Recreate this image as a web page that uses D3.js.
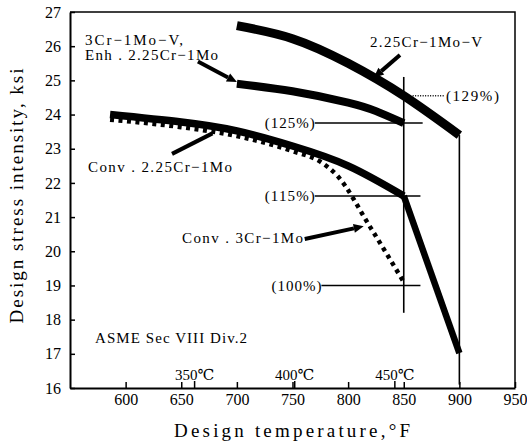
<!DOCTYPE html>
<html>
<head>
<meta charset="utf-8">
<script src="https://cdn.jsdelivr.net/npm/d3@7"></script>
<style>
  html, body { margin: 0; padding: 0; background: #fff; }
  svg { display: block; }
  text { font-family: "Liberation Serif", "DejaVu Serif", serif; fill: #000; }
</style>
</head>
<body>
<svg id="chart" width="527" height="444"></svg>
<script>
// ---------- data ----------
const xTickValues = [600, 650, 700, 750, 800, 850, 900, 950];
const yTickValues = [16, 17, 18, 19, 20, 21, 22, 23, 24, 25, 26, 27];
const celsiusTicks = [350, 400, 450];

// 2.25Cr-1Mo-V
const vTemps  = [700, 750, 800, 850, 900];
const vStress = [26.6, 26.22, 25.5, 24.55, 23.4];
// 3Cr-1Mo-V, Enh. 2.25Cr-1Mo
const enhTemps  = [700, 750, 800, 825, 850];
const enhStress = [24.9, 24.68, 24.35, 24.1, 23.75];
// Conv. 2.25Cr-1Mo
const convTemps  = [586, 650, 700, 750, 800, 850, 900];
const convStress = [24.0, 23.78, 23.52, 23.08, 22.5, 21.62, 17.02];
// Conv. 3Cr-1Mo (dotted)
const c3Temps  = [586, 650, 700, 750, 775, 790, 820, 850];
const c3Stress = [23.85, 23.63, 23.37, 22.93, 22.62, 22.22, 20.7, 19.1];

// percentage reference lines: label, stress, start temp, end temp
const pctLabels = ["(125%)", "(115%)", "(100%)"];
const pctStress = [23.75, 21.62, 19.0];
const pctStart  = [770, 770, 776];
const pctEnd    = [867, 865, 865];
const pct129 = { label: "(129%)", stress: 24.55, start: 858, end: 887 };

// vertical reference lines
const refTemps = [850, 900];
const refTop   = [25.1, 23.4];
const refBot   = [18.2, 16.1];

// annotation labels (temp, stress at baseline)
const noteTexts  = ["2.25Cr\u22121Mo\u2212V", "3Cr\u22121Mo\u2212V,", "Enh . 2.25Cr\u22121Mo",
                    "Conv . 2.25Cr\u22121Mo", "Conv . 3Cr\u22121Mo", "ASME Sec VIII Div.2"];
const noteTemps  = [819.7, 563.5, 563.5, 566.2, 650.7, 572.5];
const noteStress = [25.98, 26.04, 25.6, 22.32, 20.24, 17.32];
const noteWidths = [112, 98, 133, 144, 121, 152];

// arrows: from (t1,s1) to (t2,s2)
const arrowFrom = [[846.6, 25.74], [665.0, 25.55], [641.7, 22.85], [761.0, 20.36]];
const arrowTo   = [[823.0, 25.08], [700.0, 24.95], [678.0, 23.45], [814.0, 20.73]];
const arrowHead = [true, true, false, true];

// ---------- layout ----------
const svg = d3.select("#chart");
const mLeft = 70, mRight = 515, mTop = 12, mBottom = 388;
const x = d3.scaleLinear().domain([550, 950]).range([mLeft, mRight]);
const y = d3.scaleLinear().domain([16, 27]).range([mBottom, mTop]);

// frame (top & right)
svg.append("path")
  .attr("d", `M${mLeft},${mTop}H${mRight}V${mBottom}`)
  .attr("fill", "none").attr("stroke", "#000").attr("stroke-width", 1.5);

// axes
const xAxis = d3.axisBottom(x).tickValues(xTickValues).tickSizeInner(-6).tickSizeOuter(0).tickPadding(6);
const yAxis = d3.axisLeft(y).tickValues(yTickValues).tickSizeInner(-5).tickSizeOuter(0).tickPadding(9);

const gx = svg.append("g").attr("transform", `translate(0,${mBottom})`).call(xAxis);
const gy = svg.append("g").attr("transform", `translate(${mLeft},0)`).call(yAxis);
[gx, gy].forEach(g => {
  g.select(".domain").attr("stroke-width", 2);
  g.selectAll(".tick line").attr("stroke-width", 1.5);
  g.selectAll(".tick text").style("font-family", '"Liberation Serif", serif').style("font-size", "16px");
});

// celsius ticks and labels
celsiusTicks.forEach(c => {
  const f = c * 9 / 5 + 32;
  svg.append("line").attr("x1", x(f)).attr("x2", x(f)).attr("y1", mBottom).attr("y2", mBottom - 7)
    .attr("stroke", "#000").attr("stroke-width", 1.5);
  svg.append("text").attr("x", x(f)).attr("y", mBottom - 8).attr("text-anchor", "middle")
    .style("font-size", "15px").text(c + "\u2103");
});

// axis titles
svg.append("text").attr("x", 292).attr("y", 437).attr("text-anchor", "middle")
  .style("font-size", "19px").attr("textLength", 236).attr("lengthAdjust", "spacing")
  .text("Design temperature,\u00B0F");
svg.append("text").attr("transform", "translate(23,196) rotate(-90)").attr("text-anchor", "middle")
  .style("font-size", "19px").attr("textLength", 255).attr("lengthAdjust", "spacing")
  .text("Design stress intensity, ksi");

// vertical reference lines
refTemps.forEach((t, i) => {
  svg.append("line").attr("x1", x(t)).attr("x2", x(t)).attr("y1", y(refTop[i])).attr("y2", y(refBot[i]))
    .attr("stroke", "#000").attr("stroke-width", 1.6);
});

// percentage lines
pctLabels.forEach((lab, i) => {
  svg.append("line").attr("x1", x(pctStart[i])).attr("x2", x(pctEnd[i]))
    .attr("y1", y(pctStress[i])).attr("y2", y(pctStress[i]))
    .attr("stroke", "#000").attr("stroke-width", 1.5);
  svg.append("text").attr("x", x(pctStart[i])).attr("y", y(pctStress[i])).attr("dy", "0.35em")
    .attr("text-anchor", "end").style("font-size", "15px")
    .attr("textLength", 50).attr("lengthAdjust", "spacing").text(lab);
});
svg.append("line").attr("x1", x(pct129.start)).attr("x2", x(pct129.end))
  .attr("y1", y(pct129.stress)).attr("y2", y(pct129.stress))
  .attr("stroke", "#000").attr("stroke-width", 1.3).attr("stroke-dasharray", "1,1.5");
svg.append("text").attr("x", x(pct129.end) + 1).attr("y", y(pct129.stress)).attr("dy", "0.35em")
  .style("font-size", "15px").attr("textLength", 53).attr("lengthAdjust", "spacing").text(pct129.label);

// curves
const smooth = d3.line().x(d => x(d[0])).y(d => y(d[1])).curve(d3.curveMonotoneX);
const natural = d3.line().x(d => x(d[0])).y(d => y(d[1])).curve(d3.curveNatural);
const straight = d3.line().x(d => x(d[0])).y(d => y(d[1]));
const zip = (a, b) => a.map((v, i) => [v, b[i]]);

const c3 = zip(c3Temps, c3Stress);
svg.append("path").attr("d", smooth(c3)).attr("fill", "none").attr("stroke", "#000")
  .attr("stroke-width", 4.5).attr("stroke-dasharray", "4,4.5");

const conv = zip(convTemps, convStress);
svg.append("path").attr("d", natural(conv.slice(0, 6))).attr("fill", "none").attr("stroke", "#000")
  .attr("stroke-width", 7.5);
svg.append("path").attr("d", straight(conv.slice(5))).attr("fill", "none").attr("stroke", "#000")
  .attr("stroke-width", 6.5);

svg.append("path").attr("d", natural(zip(enhTemps, enhStress))).attr("fill", "none").attr("stroke", "#000")
  .attr("stroke-width", 8);
svg.append("path").attr("d", natural(zip(vTemps, vStress))).attr("fill", "none").attr("stroke", "#000")
  .attr("stroke-width", 9);

// annotation texts
noteTexts.forEach((t, i) => {
  svg.append("text").attr("x", x(noteTemps[i])).attr("y", y(noteStress[i]))
    .style("font-size", "15px").attr("textLength", noteWidths[i]).attr("lengthAdjust", "spacing").text(t);
});

// arrows
arrowFrom.forEach((a, i) => {
  const x1 = x(a[0]), y1 = y(a[1]), x2 = x(arrowTo[i][0]), y2 = y(arrowTo[i][1]);
  const ang = Math.atan2(y2 - y1, x2 - x1);
  const hl = arrowHead[i] ? 10 : 0, hw = 4.5;
  const bx = x2 - hl * Math.cos(ang), by = y2 - hl * Math.sin(ang);
  svg.append("line").attr("x1", x1).attr("y1", y1).attr("x2", bx).attr("y2", by)
    .attr("stroke", "#000").attr("stroke-width", 4);
  if (arrowHead[i]) {
    const px = -Math.sin(ang) * hw, py = Math.cos(ang) * hw;
    svg.append("path").attr("d", `M${x2},${y2}L${bx + px},${by + py}L${bx - px},${by - py}Z`).attr("fill", "#000");
  }
});
</script>
</body>
</html>
